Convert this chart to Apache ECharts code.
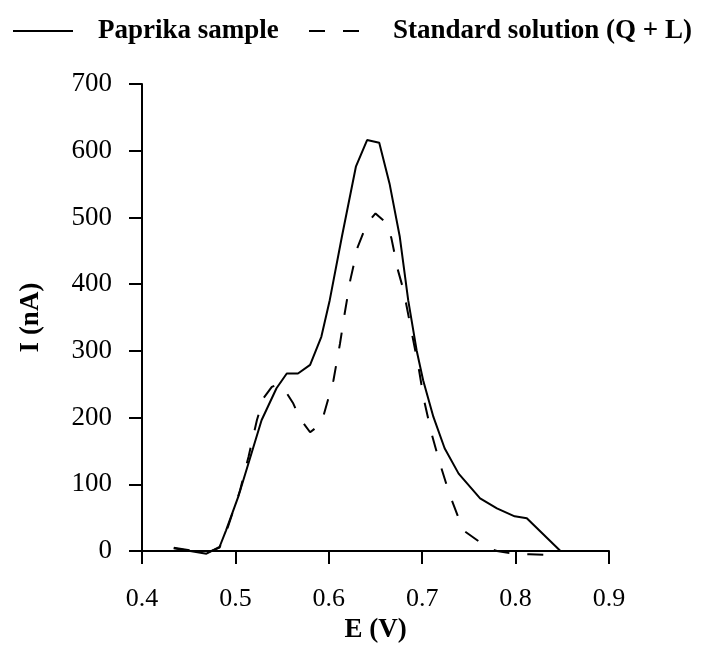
<!DOCTYPE html>
<html>
<head>
<meta charset="utf-8">
<script src="https://cdn.jsdelivr.net/npm/echarts@6/dist/echarts.min.js"></script>
<style>
  html, body { margin: 0; padding: 0; background: #fff; }
  #chart { width: 707px; height: 645px; }
</style>
</head>
<body>
<div id="chart"></div>
<script>
// Paprika sample (solid)
const paprikaE = [0.434, 0.469, 0.483, 0.490, 0.503, 0.515, 0.528, 0.544, 0.555, 0.567, 0.580, 0.592, 0.601, 0.614, 0.629, 0.641, 0.654, 0.665, 0.676, 0.685, 0.694, 0.701, 0.712, 0.724, 0.739, 0.762, 0.780, 0.799, 0.812, 0.848];
const paprikaI = [4, -4, 6, 31, 81, 136, 196, 244, 266, 266, 279, 321, 376, 471, 576, 616, 612, 551, 471, 376, 301, 256, 201, 154, 116, 79, 64, 52, 49, 0];

// Standard solution Q + L (dashed)
const standardE = [0.434, 0.469, 0.483, 0.492, 0.505, 0.514, 0.523, 0.530, 0.539, 0.546, 0.553, 0.562, 0.569, 0.580, 0.592, 0.605, 0.612, 0.617, 0.623, 0.631, 0.641, 0.650, 0.662, 0.667, 0.674, 0.680, 0.689, 0.696, 0.702, 0.710, 0.719, 0.729, 0.744, 0.771, 0.780, 0.801, 0.815, 0.835, 0.848];
const standardI = [5, -3, 5, 36, 91, 141, 196, 229, 246, 250, 241, 221, 199, 178, 191, 256, 311, 356, 406, 456, 491, 506, 491, 469, 421, 391, 326, 276, 226, 176, 131, 86, 31, 4, 0, -5, -5, -6, 0];

const seriesNames = ['Paprika sample', 'Standard solution (Q + L)'];

const pairs = (xs, ys) => xs.map((x, i) => [x, ys[i]]);

const chart = echarts.init(document.getElementById('chart'));

const serif = '"Liberation Serif", "Times New Roman", serif';
const legendText = { fontFamily: serif, fontWeight: 'bold', fontSize: 27, color: '#000', lineHeight: 30 };

chart.setOption({
  animation: false,
  legend: [
    {
      data: [seriesNames[0]],
      left: 12, top: 16, padding: 0,
      itemWidth: 60, itemHeight: 14,
      itemStyle: { opacity: 0 },
      textStyle: Object.assign({}, legendText, { padding: [0, 0, 0, 20] })
    },
    {
      data: [seriesNames[1]],
      left: 308, top: 16, padding: 0,
      itemWidth: 50, itemHeight: 14,
      itemStyle: { opacity: 0 },
      textStyle: Object.assign({}, legendText, { padding: [0, 0, 0, 29] })
    }
  ],
  grid: { left: 142, top: 84, width: 467, height: 467, containLabel: false, outerBoundsMode: 'none' },
  xAxis: {
    type: 'value',
    min: 0.4, max: 0.9, interval: 0.1,
    name: 'E (V)',
    nameLocation: 'middle',
    nameGap: 66,
    nameTextStyle: { fontFamily: serif, fontWeight: 'bold', fontSize: 27, color: '#000' },
    axisLine: { lineStyle: { color: '#000', width: 2 } },
    axisTick: { length: 13, lineStyle: { color: '#000', width: 2 } },
    axisLabel: {
      margin: 35, fontFamily: serif, fontSize: 26, color: '#000',
      formatter: v => v.toFixed(1)
    },
    splitLine: { show: false }
  },
  yAxis: {
    type: 'value',
    min: 0, max: 700, interval: 100,
    name: 'I (nA)',
    nameLocation: 'middle',
    nameGap: 97,
    nameTextStyle: { fontFamily: serif, fontWeight: 'bold', fontSize: 27, color: '#000' },
    axisLine: { show: true, lineStyle: { color: '#000', width: 2 } },
    axisTick: { show: true, length: 13, lineStyle: { color: '#000', width: 2 } },
    axisLabel: { margin: 30, fontFamily: serif, fontSize: 27, color: '#000' },
    splitLine: { show: false }
  },
  series: [
    {
      name: seriesNames[0],
      type: 'line',
      data: pairs(paprikaE, paprikaI),
      symbol: 'none',
      clip: false,
      lineStyle: { color: '#000', width: 2 }
    },
    {
      name: seriesNames[1],
      type: 'line',
      data: pairs(standardE, standardI),
      symbol: 'none',
      clip: false,
      lineStyle: { color: '#000', width: 2, type: [16, 18] }
    }
  ]
});
</script>
</body>
</html>
